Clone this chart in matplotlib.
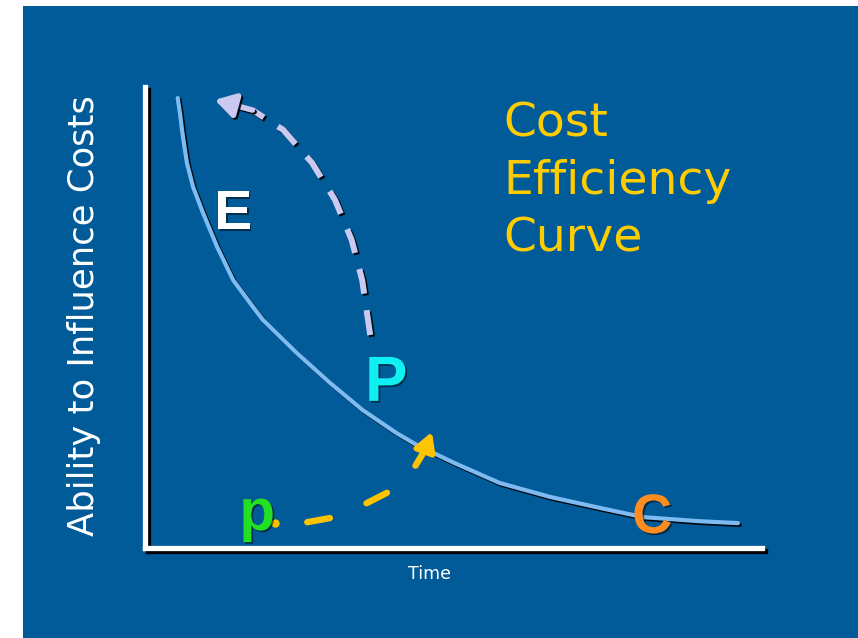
import matplotlib
matplotlib.use('Agg')
import matplotlib.pyplot as plt
import matplotlib.patheffects as pe
from matplotlib.patches import Rectangle

# ---- data (axis units 0..10) ----
curve_x = [0.53, 0.57, 0.60, 0.64, 0.68, 0.78, 0.94, 1.17, 1.43, 1.75, 1.91, 2.20, 2.46, 3.00, 3.53, 4.08, 4.41, 5.02, 5.75, 6.56, 7.37, 8.07, 9.00, 9.61]
curve_y = [9.76, 9.40, 9.07, 8.70, 8.35, 7.83, 7.27, 6.53, 5.81, 5.23, 4.95, 4.57, 4.23, 3.58, 2.99, 2.49, 2.23, 1.84, 1.41, 1.11, 0.87, 0.67, 0.58, 0.54]

lav_x = [3.65, 3.52, 3.35, 3.08, 2.71, 2.24, 1.74]
lav_y = [4.62, 5.81, 6.68, 7.55, 8.35, 9.07, 9.50]
lav_tip = (1.13, 9.72)

yel_x = [2.11, 2.63, 3.08, 3.53, 3.94, 4.34, 4.54]
yel_y = [0.54, 0.56, 0.67, 0.93, 1.21, 1.69, 2.13]
yel_tip = (4.65, 2.52)

letters = ['E', 'P', 'p', 'C']
letter_x = [1.43, 3.91, 1.82, 8.22]
letter_y = [7.22, 3.56, 0.39, 0.63]
letter_colors = ['#FFFFFF', '#10F0F0', '#22E022', '#FF8C1E']
letter_sizes = [40, 46, 42, 40]
letter_va = ['center', 'center', 'baseline', 'center']

title_lines = ['Cost', 'Efficiency', 'Curve']
y_label = 'Ability to Influence Costs'
x_label = 'Time'

W, H = 858, 638
BLUE = '#015B99'

fig = plt.figure(figsize=(W / 100, H / 100), dpi=100)
fig.patch.set_facecolor('white')
fig.patches.append(Rectangle((23 / W, 0), 1 - 23 / W, (H - 6) / H,
                             transform=fig.transFigure, facecolor=BLUE,
                             edgecolor='none', zorder=-5))

ax = fig.add_axes([145 / W, 1 - 548 / H, (762 - 145) / W, (548 - 87) / H])
ax.set_facecolor('none')
ax.set_xlim(0, 10)
ax.set_ylim(0, 10)
ax.set_xticks([])
ax.set_yticks([])
for s in ['top', 'right']:
    ax.spines[s].set_visible(False)
for s in ['left', 'bottom']:
    sp = ax.spines[s]
    sp.set_color('white')
    sp.set_linewidth(3.8)
    sp.set_capstyle('projecting')
    sp.set_path_effects([pe.SimpleLineShadow(offset=(2.5, -2.5), shadow_color='black', alpha=1.0),
                         pe.Normal()])

shadow = [pe.SimpleLineShadow(offset=(1.3, -1.3), shadow_color='black', alpha=0.9), pe.Normal()]

# main curve
ax.plot(curve_x, curve_y, color='#7DBBF2', lw=3.0, solid_capstyle='round',
        solid_joinstyle='round', path_effects=shadow, zorder=3)

# lavender dashed arrow
ax.plot(lav_x, lav_y, color='#C9C9F2', lw=4.3, dashes=(4.2, 2.8),
        dash_capstyle='butt', dash_joinstyle='round', path_effects=shadow, zorder=4)
ax.annotate('', xy=lav_tip, xytext=(lav_x[-1], lav_y[-1]),
            arrowprops=dict(arrowstyle='-|>,head_length=0.75,head_width=0.45',
                            color='#C9C9F2', lw=4.0, shrinkA=0, shrinkB=0,
                            mutation_scale=16, path_effects=shadow),
            zorder=4)

# yellow dashed arrow
ax.plot(yel_x[:1], yel_y[:1], 'o', color='#FFC400', ms=5, zorder=4)
ax.plot(yel_x[1:], yel_y[1:], color='#FFC400', lw=4.6, dashes=(3.6, 6.2),
        dash_capstyle='round', zorder=4)
ax.annotate('', xy=yel_tip, xytext=(yel_x[-1], yel_y[-1]),
            arrowprops=dict(arrowstyle='-|>,head_length=0.8,head_width=0.45',
                            color='#FFC400', lw=4.0, shrinkA=0, shrinkB=0,
                            mutation_scale=14),
            zorder=4)

# letters
for t, x, y, c, s, va in zip(letters, letter_x, letter_y, letter_colors, letter_sizes, letter_va):
    ax.text(x, y, t, color=c, fontsize=s, fontweight='bold', family='Liberation Sans',
            ha='center', va=va, zorder=5,
            path_effects=[pe.SimplePatchShadow(offset=(1.2, -1.2), shadow_rgbFace='black', alpha=0.5), pe.Normal()])

# title
baselines = [137, 194, 251]
for line, b in zip(title_lines, baselines):
    fig.text(503 / W, 1 - b / H, line, color='#FFCC00', fontsize=34,
             family='DejaVu Sans', ha='left', va='baseline')

fig.text(84 / W, 1 - 316 / H, y_label, color='white', fontsize=25.5,
         family='DejaVu Sans', rotation=90, ha='center', va='center')
fig.text(430 / W, 1 - 574 / H, x_label, color='white', fontsize=12.5,
         family='DejaVu Sans', ha='center', va='center')

fig.savefig('out.png', dpi=100)
